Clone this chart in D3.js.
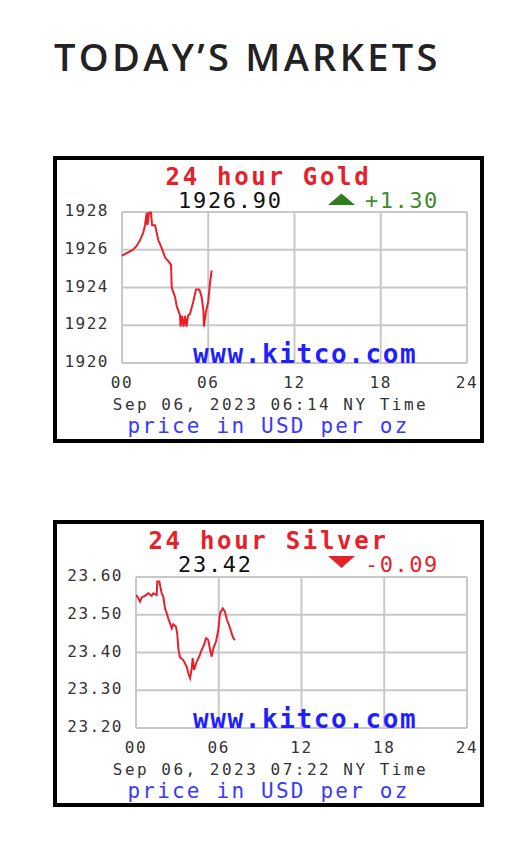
<!DOCTYPE html>
<html>
<head>
<meta charset="utf-8">
<script src="https://cdn.jsdelivr.net/npm/d3@7"></script>
<style>
  body { margin: 0; background: #fff; }
  .mono { font-family: "DejaVu Sans Mono", monospace; }
</style>
</head>
<body>
<div id="chart"></div>
<script>
// hours since midnight NY time
var goldHours = [0, 0.77, 1.02, 1.25, 1.48, 1.6, 1.72, 1.77, 1.88, 2.02, 2.09, 2.3, 2.53, 2.76, 2.99, 3.22, 3.41, 3.46, 3.69, 3.81, 4.03, 4.07, 4.17, 4.28, 4.38, 4.49, 4.59, 4.73, 4.96, 5.15, 5.38, 5.54, 5.66, 5.70, 5.84, 6.0, 6.12, 6.24];
var goldPrices = [1925.69, 1926.0, 1926.2, 1926.5, 1926.9, 1927.3, 1927.96, 1927.3, 1927.96, 1927.96, 1927.3, 1927.3, 1926.5, 1926.1, 1925.6, 1925.4, 1925.2, 1924.0, 1923.5, 1923.0, 1922.55, 1921.93, 1922.5, 1921.93, 1922.5, 1921.93, 1922.5, 1922.6, 1923.26, 1923.9, 1923.9, 1923.5, 1922.8, 1921.93, 1922.7, 1923.26, 1924.24, 1924.9];

var silverHours = [0, 0.07, 0.29, 0.41, 0.65, 0.89, 1.14, 1.25, 1.5, 1.54, 1.69, 1.86, 1.98, 2.1, 2.23, 2.34, 2.47, 2.59, 2.7, 2.9, 2.99, 3.07, 3.19, 3.43, 3.68, 3.79, 3.92, 4.04, 4.11, 4.21, 4.4, 4.59, 4.76, 4.93, 5.08, 5.24, 5.37, 5.49, 5.61, 5.8, 5.97, 6.09, 6.29, 6.45, 6.58, 6.77, 6.94, 7.06, 7.18];
var silverPrices = [23.55, 23.55, 23.535, 23.546, 23.55, 23.557, 23.55, 23.557, 23.552, 23.588, 23.588, 23.557, 23.548, 23.517, 23.504, 23.49, 23.477, 23.464, 23.475, 23.468, 23.45, 23.41, 23.387, 23.38, 23.362, 23.345, 23.332, 23.358, 23.385, 23.354, 23.376, 23.39, 23.407, 23.42, 23.438, 23.433, 23.407, 23.389, 23.411, 23.429, 23.46, 23.504, 23.517, 23.508, 23.488, 23.47, 23.45, 23.438, 23.433];

var xTickLabels = ["00", "06", "12", "18", "24"];
var goldTicks = [1920, 1922, 1924, 1926, 1928];
var silverTicks = [23.20, 23.30, 23.40, 23.50, 23.60];

var charts = [
  { title: "24 hour Gold", price: "1926.90", change: "+1.30", up: true,
    stamp: "Sep 06, 2023 06:14 NY Time", hours: goldHours, prices: goldPrices,
    ticks: goldTicks, fmt: d3.format("d"),
    top: 156, plot: { left: 122, right: 467, top: 212, bottom: 363 } },
  { title: "24 hour Silver", price: "23.42", change: "-0.09", up: false,
    stamp: "Sep 06, 2023 07:22 NY Time", hours: silverHours, prices: silverPrices,
    ticks: silverTicks, fmt: d3.format(".2f"),
    top: 520, plot: { left: 136, right: 467, top: 577, bottom: 728 } }
];

var width = 522, height = 849;
var red = "#e8202a", blue = "#3a3aff";

var svg = d3.select("#chart").append("svg")
  .attr("width", width)
  .attr("height", height);

svg.append("text")
  .attr("x", 54)
  .attr("y", 71)
  .attr("font-family", "'Open Sans', sans-serif")
  .attr("font-weight", 600)
  .attr("font-size", 38)
  .attr("letter-spacing", 3.3)
  .attr("fill", "#222")
  .text("TODAY\u2019S MARKETS");

charts.forEach(function(c) {
  var g = svg.append("g");
  var boxCx = 268.5;

  // outer frame
  g.append("rect")
    .attr("x", 55).attr("y", c.top + 2)
    .attr("width", 427).attr("height", 283)
    .attr("fill", "#fff")
    .attr("stroke", "#000")
    .attr("stroke-width", 4);

  var x = d3.scaleLinear().domain([0, 24]).range([c.plot.left, c.plot.right]);
  var y = d3.scaleLinear().domain([c.ticks[0], c.ticks[c.ticks.length - 1]])
    .range([c.plot.bottom, c.plot.top]);

  // grid
  g.append("g").selectAll("line").data([0, 6, 12, 18, 24]).enter().append("line")
    .attr("x1", function(d) { return x(d); }).attr("x2", function(d) { return x(d); })
    .attr("y1", c.plot.top).attr("y2", c.plot.bottom)
    .attr("stroke", "#c8c8c8").attr("stroke-width", 2);
  g.append("g").selectAll("line").data(c.ticks).enter().append("line")
    .attr("y1", function(d) { return y(d); }).attr("y2", function(d) { return y(d); })
    .attr("x1", c.plot.left).attr("x2", c.plot.right)
    .attr("stroke", "#c8c8c8").attr("stroke-width", 2);

  // y labels
  g.append("g").selectAll("text").data(c.ticks).enter().append("text")
    .attr("class", "mono")
    .attr("x", c.plot.left - 13)
    .attr("y", function(d) { return y(d) + 4; })
    .attr("text-anchor", "end")
    .attr("font-size", 16)
    .attr("letter-spacing", 1.5)
    .attr("fill", "#333")
    .text(function(d) { return c.fmt(d); });

  // x labels
  g.append("g").selectAll("text").data(xTickLabels).enter().append("text")
    .attr("class", "mono")
    .attr("x", function(d, i) { return x(i * 6); })
    .attr("y", c.plot.bottom + 25)
    .attr("text-anchor", "middle")
    .attr("font-size", 16)
    .attr("letter-spacing", 1.5)
    .attr("fill", "#333")
    .text(function(d) { return d; });

  // watermark
  g.append("text")
    .attr("class", "mono")
    .attr("x", 193).attr("y", c.plot.bottom)
    .attr("font-size", 26).attr("font-weight", "bold")
    .attr("letter-spacing", 1.6)
    .attr("fill", "#1f1fff")
    .text("www.kitco.com");

  // price line
  var line = d3.line()
    .x(function(d, i) { return x(c.hours[i]); })
    .y(function(d) { return y(d); });
  g.append("path")
    .datum(c.prices)
    .attr("d", line)
    .attr("fill", "none")
    .attr("stroke", red)
    .attr("stroke-width", 2);

  // title, price, change
  g.append("text")
    .attr("class", "mono")
    .attr("x", boxCx).attr("y", c.top + 29)
    .attr("text-anchor", "middle")
    .attr("font-size", 24).attr("font-weight", "bold")
    .attr("letter-spacing", 2.7)
    .attr("fill", red)
    .text(c.title);

  g.append("text")
    .attr("class", "mono")
    .attr("x", 178).attr("y", c.top + 52)
    .attr("font-size", 22)
    .attr("letter-spacing", 1.7)
    .attr("fill", "#111")
    .text(c.price);

  var chgColor = c.up ? "#3f8a2c" : red;
  var tri = c.up
    ? [[328, c.top + 49], [355, c.top + 49], [341.5, c.top + 37.5]]
    : [[328, c.top + 36], [355, c.top + 36], [341.5, c.top + 48]];
  g.append("path")
    .attr("d", d3.line()(tri) + "Z")
    .attr("fill", c.up ? "#2f7d1f" : red);

  g.append("text")
    .attr("class", "mono")
    .attr("x", 365).attr("y", c.top + 52)
    .attr("font-size", 22)
    .attr("letter-spacing", 1.5)
    .attr("fill", chgColor)
    .text(c.change);

  // footer
  g.append("text")
    .attr("class", "mono")
    .attr("x", boxCx + 2).attr("y", c.plot.bottom + 47)
    .attr("text-anchor", "middle")
    .attr("font-size", 16)
    .attr("letter-spacing", 2.5)
    .attr("fill", "#333")
    .text(c.stamp);

  g.append("text")
    .attr("class", "mono")
    .attr("x", boxCx).attr("y", c.plot.bottom + 70)
    .attr("text-anchor", "middle")
    .attr("font-size", 21)
    .attr("letter-spacing", 2.2)
    .attr("fill", blue)
    .text("price in USD per oz");
});
</script>
</body>
</html>
